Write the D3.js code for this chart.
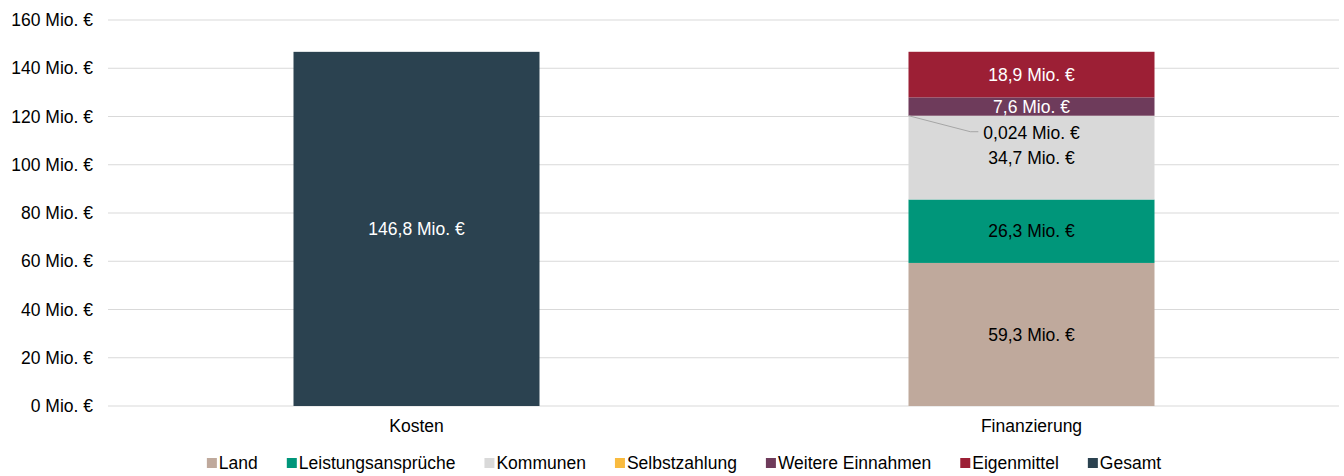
<!DOCTYPE html>
<html>
<head>
<meta charset="utf-8">
<script src="https://cdn.jsdelivr.net/npm/d3@7"></script>
<style>
    body { margin: 0; background: #fff; }
    svg text { font-family: "Liberation Sans", Arial, sans-serif; }
</style>
</head>
<body>
<div id="chart"></div>
<script>
const categories = ['Kosten', 'Finanzierung'];
const seriesNames = ['Land', 'Leistungsansprüche', 'Kommunen', 'Selbstzahlung', 'Weitere Einnahmen', 'Eigenmittel', 'Gesamt'];
const seriesColors = ['#bfa99c', '#00967a', '#d9d9d9', '#f9bb3f', '#6e3b5b', '#9c1f35', '#2b4250'];
const labelColors = ['#000', '#000', '#000', '#000', '#fff', '#fff', '#fff'];
// values per series: [Kosten, Finanzierung]
const land = [0, 59.3];
const leistungsansprueche = [0, 26.3];
const kommunen = [0, 34.7];
const selbstzahlung = [0, 0.024];
const weitereEinnahmen = [0, 7.6];
const eigenmittel = [0, 18.9];
const gesamt = [146.8, 0];
const yTicks = [0, 20, 40, 60, 80, 100, 120, 140, 160];

const seriesValues = [land, leistungsansprueche, kommunen, selbstzahlung, weitereEinnahmen, eigenmittel, gesamt];
const fmt = (v) => {
    const s = v < 0.1 ? v.toFixed(3) : v.toFixed(1);
    return s.replace('.', ',') + ' Mio. €';
};
const FS = 17.5;

const W = 1344, H = 476;
const margin = { top: 20, right: 5, bottom: 70, left: 109 };
const width = W - margin.left - margin.right;
const height = H - margin.top - margin.bottom;

const svg = d3.select('#chart').append('svg')
    .attr('width', W)
    .attr('height', H);
const g = svg.append('g')
    .attr('transform', 'translate(' + margin.left + ',' + margin.top + ')');

const x = d3.scaleBand().domain(categories).range([0, width]).paddingInner(0.6).paddingOuter(0.3);
const y = d3.scaleLinear().domain([0, 160]).range([height, 0]);

// gridlines
g.selectAll('.grid')
    .data(yTicks)
    .enter()
    .append('line')
    .attr('x1', -1)
    .attr('x2', width)
    .attr('y1', (d) => y(d))
    .attr('y2', (d) => y(d))
    .attr('stroke', '#d9d9d9')
    .attr('stroke-width', 1);

// y axis labels
const yAxis = g.append('g')
    .call(d3.axisLeft(y).tickValues(yTicks).tickSize(0).tickPadding(16).tickFormat((d) => d + ' Mio. €'));
yAxis.select('.domain').remove();
yAxis.selectAll('text').attr('font-size', FS).attr('fill', '#000').style('font-family', '"Liberation Sans", Arial, sans-serif');

// stacked data
const rows = categories.map((c, i) => {
    const r = { category: c };
    seriesNames.forEach((s, j) => { r[s] = seriesValues[j][i]; });
    return r;
});
const stack = d3.stack().keys(seriesNames)(rows);

stack.forEach((layer, j) => {
    g.selectAll('.bar-' + j)
        .data(layer.filter((d) => d[1] - d[0] > 0))
        .enter()
        .append('rect')
        .attr('x', (d) => x(d.data.category))
        .attr('width', x.bandwidth())
        .attr('y', (d) => y(d[1]))
        .attr('height', (d) => y(d[0]) - y(d[1]))
        .attr('fill', seriesColors[j]);
});

// segment labels
stack.forEach((layer, j) => {
    layer.forEach((d) => {
        const v = d[1] - d[0];
        if (v <= 0) return;
        const cx = x(d.data.category) + x.bandwidth() / 2;
        if (v < 1) {
            // callout label for tiny segment
            const ly = y(d[1]) + 17;
            const t = g.append('text')
                .attr('x', cx)
                .attr('y', ly)
                .attr('dy', '0.35em')
                .attr('text-anchor', 'middle')
                .attr('font-size', FS)
                .attr('fill', '#000')
                .text(fmt(v));
            const tw = t.node().getComputedTextLength();
            g.append('polyline')
                .attr('points', [
                    [x(d.data.category), y(d[1])],
                    [cx - tw / 2 - 13, ly - 1],
                    [cx - tw / 2 - 5, ly - 1]
                ].map((p) => p.join(',')).join(' '))
                .attr('fill', 'none')
                .attr('stroke', '#a6a6a6')
                .attr('stroke-width', 1);
            return;
        }
        g.append('text')
            .attr('x', cx)
            .attr('y', (y(d[0]) + y(d[1])) / 2)
            .attr('dy', '0.35em')
            .attr('text-anchor', 'middle')
            .attr('font-size', FS)
            .attr('fill', labelColors[j])
            .text(fmt(v));
    });
});

// x axis labels
const xAxis = g.append('g')
    .attr('transform', 'translate(0,' + height + ')')
    .call(d3.axisBottom(x).tickSize(0).tickPadding(14));
xAxis.select('.domain').remove();
xAxis.selectAll('text').attr('font-size', FS).attr('fill', '#000').style('font-family', '"Liberation Sans", Arial, sans-serif');

// legend
const legend = svg.append('g');
const gap = 29;
let lx = 0;
seriesNames.forEach((s, j) => {
    const item = legend.append('g').attr('transform', 'translate(' + lx + ',0)');
    item.append('rect')
        .attr('x', 0)
        .attr('y', -5)
        .attr('width', 10)
        .attr('height', 10)
        .attr('fill', seriesColors[j]);
    const t = item.append('text')
        .attr('x', 12)
        .attr('y', 0)
        .attr('dy', '0.35em')
        .attr('font-size', FS)
        .attr('fill', '#000')
        .text(s);
    lx += 12 + t.node().getComputedTextLength() + gap;
});
const legendWidth = lx - gap;
legend.attr('transform', 'translate(' + (684 - legendWidth / 2) + ',463)');
</script>
</body>
</html>
